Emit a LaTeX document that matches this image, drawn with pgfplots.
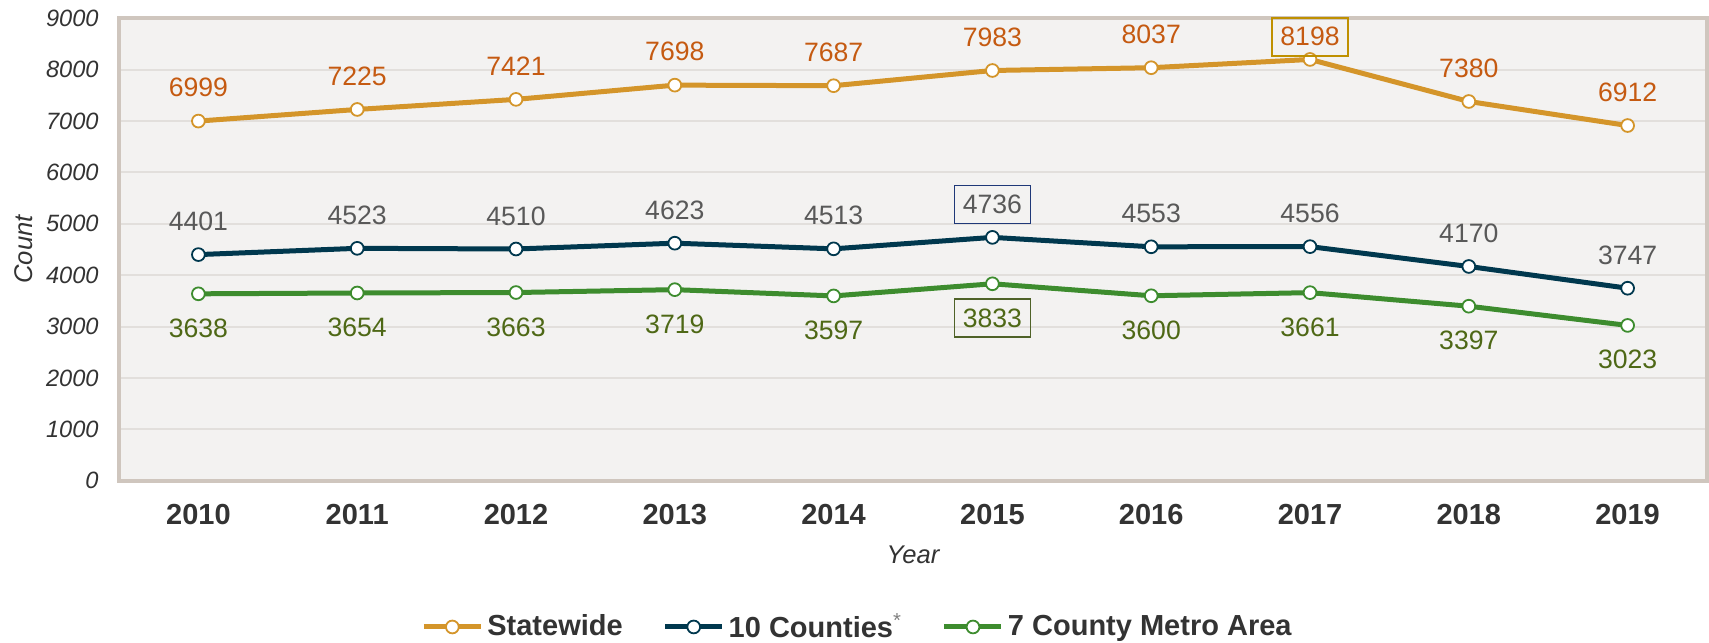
\documentclass[border=0pt]{standalone}
\usepackage{fontspec}
\setmainfont{Liberation Sans}
\usepackage{pgfplots}
\pgfplotsset{compat=1.18}
\definecolor{cGold}{RGB}{212,149,42}
\definecolor{cNavy}{RGB}{0,56,78}
\definecolor{cGreen}{RGB}{61,140,46}
\definecolor{lGold}{RGB}{197,90,17}
\definecolor{lGray}{RGB}{89,89,89}
\definecolor{lGreen}{RGB}{78,104,22}
\definecolor{bGold}{RGB}{191,144,0}
\definecolor{bNavy}{RGB}{31,56,120}
\definecolor{bGreen}{RGB}{79,98,40}
\definecolor{bgc}{RGB}{243,242,241}
\definecolor{frame}{RGB}{207,198,190}
\definecolor{gridc}{RGB}{226,223,220}
\definecolor{txt}{RGB}{51,51,51}
\begin{document}
\begin{tikzpicture}
\path[use as bounding box] (0,0) rectangle (854.5bp,321.5bp);
\begin{axis}[
  at={(59.5bp,81.1bp)}, anchor=south west,
  scale only axis, width=794bp, height=231.3bp,
  xmin=-0.5, xmax=9.5, ymin=0, ymax=9000,
  xtick={0,...,9},
  xticklabels={2010,2011,2012,2013,2014,2015,2016,2017,2018,2019},
  ytick={0,1000,...,9000},
  major tick length=0pt,
  /pgf/number format/1000 sep={},
  /pgf/number format/assume math mode=true,
  axis line style={draw=frame, line width=2bp},
  axis background/.style={fill=bgc},
  ymajorgrids, grid style={draw=gridc, line width=1bp},
  xticklabel style={font=\fontsize{14.5bp}{17bp}\selectfont\bfseries, text=txt, inner sep=0pt, anchor=north, yshift=-11.7bp},
  yticklabel style={font=\fontsize{11.8bp}{14bp}\selectfont\itshape, text=txt, inner sep=0pt, anchor=east, xshift=-10bp},
  xlabel={Year}, ylabel={Count},
  xlabel style={font=\fontsize{12.8bp}{15bp}\selectfont\itshape, text=txt, at={(axis description cs:0.5,-0.1607)}, anchor=center},
  ylabel style={font=\fontsize{12.8bp}{15bp}\selectfont\itshape, text=txt, at={(axis description cs:-0.0598,0.5)}, anchor=center},
  clip=false,
  legend columns=3,
  legend style={draw=none, fill=none, at={(axis description cs:0.4644,-0.316)}, anchor=center,
    font=\fontsize{14.5bp}{17bp}\selectfont\bfseries, text=txt,
    /tikz/every odd column/.append style={column sep=2bp},
    /tikz/every even column/.append style={column sep=20bp},
    nodes={inner sep=0pt}},
  legend cell align=left,
  legend image code/.code={\draw[mark repeat=2,mark phase=2] plot coordinates {(0bp,0bp) (14.25bp,0bp) (28.5bp,0bp)};},
  every axis plot/.append style={line width=2.5bp, mark=*, mark size=3.2bp},
  nodes near coords,
  every node near coord/.append style={font=\fontsize{13.3bp}{16bp}\selectfont, anchor=center, inner xsep=4.2bp, inner ysep=4.8bp},
]
\addplot[color=cGold, mark options={fill=white, draw=cGold, line width=0.9bp},
  every node near coord/.append style={text=lGold, yshift=16.8bp},
  coordinate style/.condition={\coordindex==7}{draw=bGold, line width=0.8bp, yshift=-5.5bp}]
  coordinates {(0,6999) (1,7225) (2,7421) (3,7698) (4,7687) (5,7983) (6,8037) (7,8198) (8,7380) (9,6912)};
\addlegendentry{Statewide}
\addplot[color=cNavy, mark options={fill=white, draw=cNavy, line width=0.9bp},
  every node near coord/.append style={text=lGray, yshift=16.5bp},
  coordinate style/.condition={\coordindex==5}{draw=bNavy, line width=0.8bp}]
  coordinates {(0,4401) (1,4523) (2,4510) (3,4623) (4,4513) (5,4736) (6,4553) (7,4556) (8,4170) (9,3747)};
\addlegendentry{10 Counties\textsuperscript{\textcolor{gray}{\mdseries *}}}
\addplot[color=cGreen, mark options={fill=white, draw=cGreen, line width=0.9bp},
  every node near coord/.append style={text=lGreen, yshift=-17.2bp},
  coordinate style/.condition={\coordindex==5}{draw=bGreen, line width=0.8bp}]
  coordinates {(0,3638) (1,3654) (2,3663) (3,3719) (4,3597) (5,3833) (6,3600) (7,3661) (8,3397) (9,3023)};
\addlegendentry{7 County Metro Area}
\end{axis}
\end{tikzpicture}
\end{document}
